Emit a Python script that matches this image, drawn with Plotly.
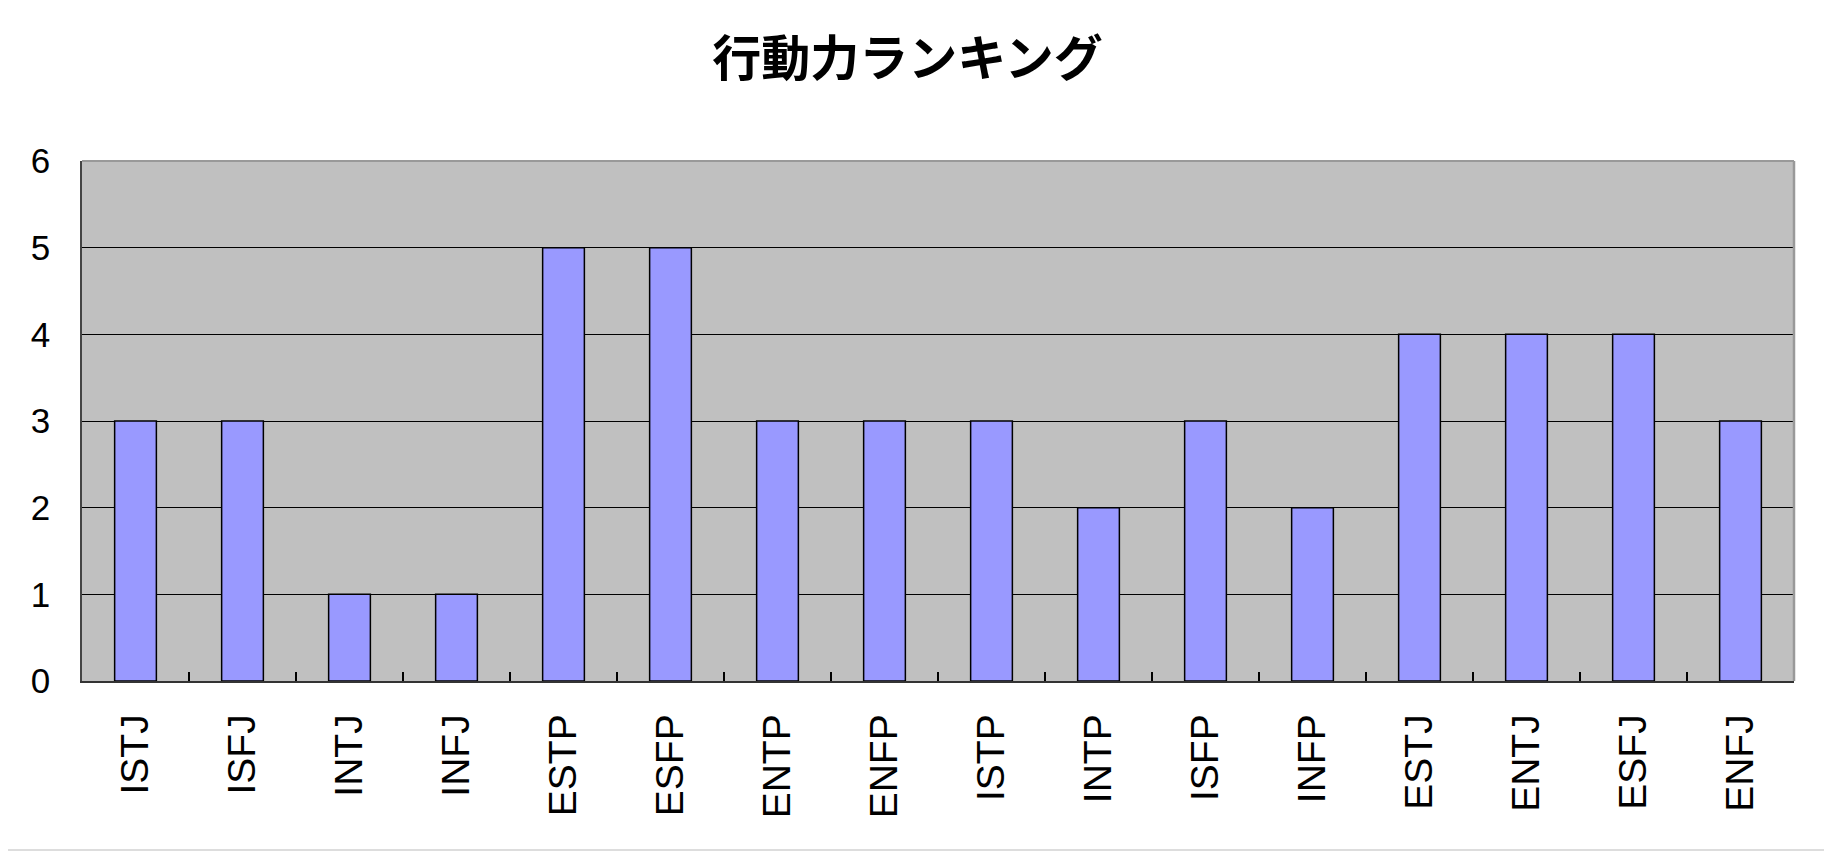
import plotly.graph_objects as go

categories = ["ISTJ", "ISFJ", "INTJ", "INFJ", "ESTP", "ESFP", "ENTP", "ENFP",
              "ISTP", "INTP", "ISFP", "INFP", "ESTJ", "ENTJ", "ESFJ", "ENFJ"]
values = [3, 3, 1, 1, 5, 5, 3, 3, 3, 2, 3, 2, 4, 4, 4, 3]
y_ticks = [0, 1, 2, 3, 4, 5, 6]
title_text = "行動力ランキング"

fig = go.Figure()
fig.add_trace(go.Bar(
    x=categories, y=values,
    marker=dict(color="#9999FF", line=dict(color="#000000", width=1.5)),
    width=0.39,
))

fig.update_layout(
    width=1832, height=852,
    margin=dict(l=74, r=46, t=153, b=179),
    paper_bgcolor="white",
    plot_bgcolor="#C0C0C0",
    showlegend=False,
    title=dict(text=title_text, x=0.491, xanchor="center", y=0.94, yanchor="middle",
               font=dict(family="Noto Sans CJK JP", size=49, color="#000000", weight="bold")),
    xaxis=dict(
        type="category", tickangle=-90, automargin=False,
        tickfont=dict(family="Liberation Sans", size=39, color="#000000"),
        ticks="inside", tickson="boundaries", ticklen=9, tickcolor="#000000", tickwidth=1.5,
        showline=True, linecolor="#333333", linewidth=1.5,
        showgrid=False, ticklabelstandoff=16,
    ),
    yaxis=dict(
        range=[0, 6], tickvals=y_ticks, automargin=False,
        tickfont=dict(family="Liberation Sans", size=35, color="#000000"),
        showgrid=True, gridcolor="#000000", gridwidth=1,
        showline=True, linecolor="#444444", linewidth=1.5,
        ticks="", ticklabelstandoff=23, zeroline=False,
    ),
    shapes=[
        dict(type="line", xref="paper", yref="paper", x0=0, x1=1, y0=1, y1=1,
             line=dict(color="#999999", width=2), layer="above"),
        dict(type="line", xref="paper", yref="paper", x0=1, x1=1, y0=0, y1=1,
             line=dict(color="#999999", width=2.5), layer="above"),
        dict(type="line", xref="paper", yref="paper", x0=-0.048, x1=1.025, y0=-0.325, y1=-0.325,
             line=dict(color="#DDDDDD", width=2)),
    ],
)

fig.write_html("out.html")
